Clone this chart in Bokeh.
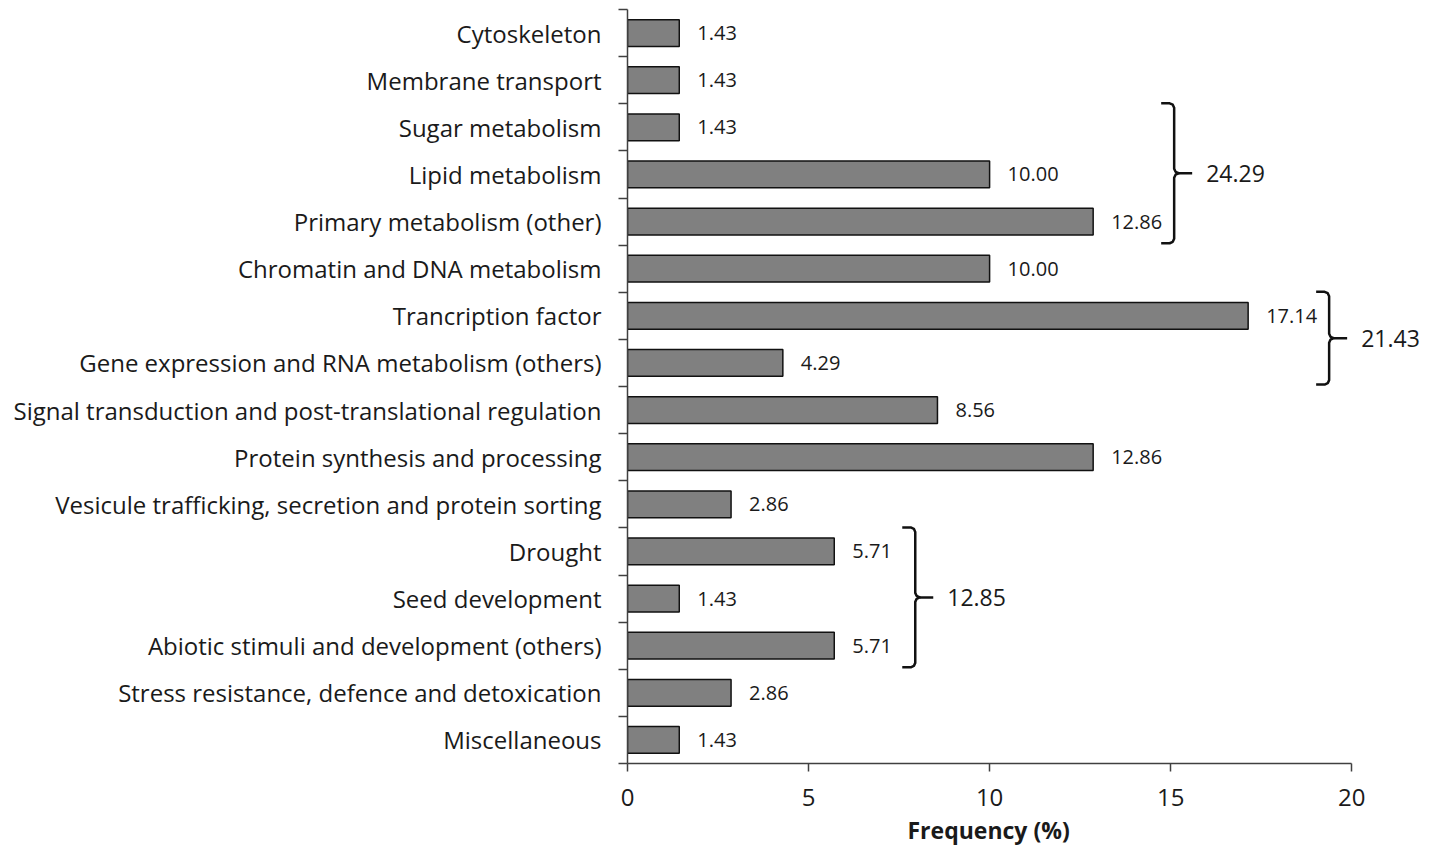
from bokeh.plotting import figure
from bokeh.models import Range1d, FixedTicker, ColumnDataSource, Title
from bokeh.core.properties import value
from bokeh.embed import file_html
from bokeh.resources import INLINE

categories = [
    "Cytoskeleton",
    "Membrane transport",
    "Sugar metabolism",
    "Lipid metabolism",
    "Primary metabolism (other)",
    "Chromatin and DNA metabolism",
    "Trancription factor",
    "Gene expression and RNA metabolism (others)",
    "Signal transduction and post-translational regulation",
    "Protein synthesis and processing",
    "Vesicule trafficking, secretion and protein sorting",
    "Drought",
    "Seed development",
    "Abiotic stimuli and development (others)",
    "Stress resistance, defence and detoxication",
    "Miscellaneous",
]
values = [1.43, 1.43, 1.43, 10.00, 12.86, 10.00, 17.14, 4.29, 8.56, 12.86,
          2.86, 5.71, 1.43, 5.71, 2.86, 1.43]
value_text = ["%.2f" % v for v in values]

group_first = [2, 6, 11]
group_last = [4, 7, 13]
group_totals = ["24.29", "21.43", "12.85"]

x_ticks = [0, 5, 10, 15, 20]
x_title = "Frequency (%)"

FONT = "Open Sans"
TXT = "#1a1a1a"
AX = "#404040"

n = len(categories)
idx = list(range(n))

W, H = 1425, 857
B_LEFT, B_RIGHT, B_TOP, B_BOTTOM = 627, 5, 9, 94
X_END = 21.9
frame_w = W - B_LEFT - B_RIGHT
frame_h = H - B_TOP - B_BOTTOM
sx = frame_w / X_END          # px per x unit
sy = frame_h / n              # px per category

p = figure(width=W, height=H,
           x_range=Range1d(0, X_END), y_range=Range1d(n - 0.5, -0.5),
           output_backend="svg", toolbar_location=None,
           min_border_left=B_LEFT, min_border_right=B_RIGHT,
           min_border_top=B_TOP, min_border_bottom=B_BOTTOM)
p.outline_line_color = None
p.xgrid.visible = False
p.ygrid.visible = False
p.background_fill_color = "white"

src = ColumnDataSource(dict(y=idx, v=values, t=value_text))
p.hbar(y="y", right="v", left=0, height=0.57, source=src,
       fill_color="#808080", line_color="#111111", line_width=1.5)
p.text(x="v", y="y", text="t", source=src, x_offset=18,
       text_baseline="middle", text_align="left",
       text_font=value(FONT), text_font_size="20px", text_color=TXT)

# brackets
bxs, bys, sxs_, sys_ = [], [], [], []
tx, ty, tt = [], [], []
for f, l, tot in zip(group_first, group_last, group_totals):
    xv = max(values[f:l + 1]) + 81 / sx
    top = f - 0.51
    bot = l + 0.46
    mid = (top + bot) / 2
    r, c, hook = 4.5, 1.4, 13
    xs = [xv - hook / sx, xv - r / sx, xv - c / sx, xv, xv, xv + c / sx, xv + r / sx,
          xv + c / sx, xv, xv, xv - c / sx, xv - r / sx, xv - hook / sx]
    ys = [top, top, top + c / sy, top + r / sy, mid - r / sy, mid - c / sy, mid,
          mid + c / sy, mid + r / sy, bot - r / sy, bot - c / sy, bot, bot]
    bxs.append(xs)
    bys.append(ys)
    sxs_.append([xv + r / sx, xv + 18 / sx])
    sys_.append([mid, mid])
    tx.append(xv + 18 / sx)
    ty.append(mid)
    tt.append(tot)
p.multi_line(bxs, bys, line_color="#111111", line_width=2.5, line_join="round")
p.multi_line(sxs_, sys_, line_color="#111111", line_width=2.5)
p.text(x=tx, y=ty, text=tt, x_offset=14, text_baseline="middle",
       text_font=value(FONT), text_font_size="23px", text_color=TXT)

# x axis
xa = p.xaxis[0]
xa.ticker = FixedTicker(ticks=x_ticks, minor_ticks=[])
xa.bounds = (0, 20)
xa.axis_line_color = AX
xa.axis_line_width = 1.5
xa.major_tick_line_color = AX
xa.major_tick_line_width = 1.5
xa.major_tick_out = 8
xa.major_tick_in = 0
xa.minor_tick_line_color = None
xa.major_label_standoff = 17
xa.major_label_text_font = FONT
xa.major_label_text_font_size = "24px"
xa.major_label_text_color = TXT

# axis title, left-aligned so it sits centred under the 0-20 axis
p.add_layout(Title(text=x_title, align="left", offset=280, standoff=6,
                   text_font=FONT, text_font_style="bold",
                   text_font_size="23px", text_color=TXT), "below")

# y axis
ya = p.yaxis[0]
ya.ticker = FixedTicker(ticks=idx, minor_ticks=[i - 0.5 for i in range(n + 1)])
ya.major_label_overrides = {i: c for i, c in zip(idx, categories)}
ya.axis_line_color = AX
ya.axis_line_width = 1.5
ya.major_tick_out = 0
ya.major_tick_in = 0
ya.major_tick_line_color = None
ya.minor_tick_out = 9
ya.minor_tick_in = 0
ya.minor_tick_line_color = AX
ya.minor_tick_line_width = 1.5
ya.major_label_standoff = 17
ya.major_label_text_font = FONT
ya.major_label_text_font_size = "24px"
ya.major_label_text_color = TXT

open("out.html", "w").write(file_html(p, INLINE))
